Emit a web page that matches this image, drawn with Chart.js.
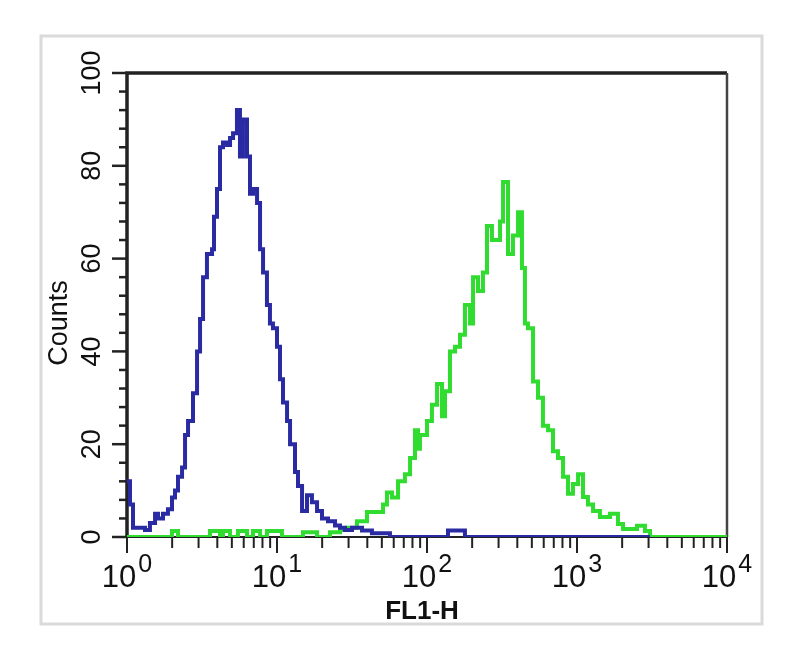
<!DOCTYPE html>
<html>
<head>
<meta charset="utf-8">
<title>FL1-H histogram</title>
<script src="https://cdn.jsdelivr.net/npm/chart.js@4/dist/chart.umd.min.js"></script>
<style>
  body { margin: 0; background: #fff; }
  canvas { display: block; }
</style>
</head>
<body>
<canvas id="facs" width="800" height="656"></canvas>
<script>
/* Histogram channels: x is the log10 of FL1-H, y is Counts */
var blueLogX = [0.000, 0.020, 0.040, 0.120, 0.153, 0.187, 0.207, 0.240, 0.273, 0.300,
                0.320, 0.340, 0.367, 0.387, 0.407, 0.440, 0.467, 0.487, 0.507, 0.533,
                0.567, 0.580, 0.600, 0.620, 0.640, 0.667, 0.687, 0.707, 0.733, 0.753,
                0.773, 0.800, 0.820, 0.840, 0.867, 0.887, 0.907, 0.933, 0.953, 0.973,
                1.000, 1.020, 1.040, 1.067, 1.087, 1.120, 1.140, 1.167, 1.200, 1.233,
                1.267, 1.300, 1.340, 1.387, 1.420, 1.453, 1.500, 1.567, 1.633, 1.753,
                2.140, 2.253, 3.487];
var blueCounts = [12, 7, 2, 1.5, 3, 5, 4, 5, 6, 8.5,
                  10, 13, 15, 22, 25, 31, 40, 47, 56, 61,
                  62, 69, 75, 84, 85, 84.5, 86, 87, 92, 82,
                  90, 82, 74, 75, 72, 62, 57, 50, 46, 45,
                  41, 34, 29, 25, 20, 14, 11, 5.6, 9, 7.5,
                  5.6, 4, 3.4, 2.5, 2, 1.5, 2, 1.4, 0.8, 0,
                  1.4, 0, 0];

var greenLogX = [0.000, 0.300, 0.340, 0.553, 0.620, 0.640, 0.687, 0.740, 0.800, 0.840,
                 0.887, 0.933, 1.033, 1.173, 1.267, 1.353, 1.420, 1.467, 1.533, 1.600,
                 1.707, 1.733, 1.767, 1.807, 1.853, 1.887, 1.920, 1.940, 1.953, 2.000,
                 2.033, 2.067, 2.100, 2.120, 2.153, 2.187, 2.220, 2.253, 2.287, 2.307,
                 2.340, 2.373, 2.400, 2.433, 2.487, 2.507, 2.540, 2.573, 2.607, 2.633,
                 2.653, 2.673, 2.707, 2.740, 2.773, 2.807, 2.840, 2.873, 2.907, 2.940,
                 2.973, 3.007, 3.040, 3.073, 3.107, 3.153, 3.220, 3.273, 3.307, 3.400,
                 3.453, 3.487, 4.000];
var greenCounts = [0, 1.3, 0, 1.3, 0, 1.3, 0, 1.3, 0, 1.3,
                   0, 1.3, 0, 1.0, 0, 1.0, 1.5, 2, 3.4, 5.4,
                   7, 9.6, 8.5, 12, 13.5, 17, 23, 19, 22, 25,
                   28.5, 33, 26, 31.4, 40, 41, 43.6, 50, 46, 56,
                   53, 57, 67, 64, 68, 76.5, 61, 65, 70, 58,
                   46, 45, 33.5, 30, 24, 23, 18.5, 17, 13, 9.3,
                   11.4, 13.5, 8.6, 7, 5.6, 4.3, 5, 2.8, 1.7, 2.4,
                   1.3, 0, 0];

/* Axis ticks and labels */
var countTicks = [0, 20, 40, 60, 80, 100];
var decades = [0, 1, 2, 3, 4];
var xTitle = "FL1-H";
var yTitle = "Counts";

function toPoints(logX, counts) {
  return logX.map(function (e, i) { return { x: Math.pow(10, e), y: counts[i] }; });
}

var FONT = '"Liberation Sans", Arial, sans-serif';

/* Frame, tick marks and labels of the FACS plot, drawn from the chart's scales */
var facsAxes = {
  id: 'facsAxes',
  beforeDraw: function (chart) {
    var ctx = chart.ctx;
    ctx.save();
    ctx.fillStyle = '#fff';
    ctx.fillRect(0, 0, chart.width, chart.height);
    ctx.strokeStyle = '#dadada';
    ctx.lineWidth = 3;
    ctx.strokeRect(41, 36, 721, 588);
    ctx.restore();
  },
  beforeDatasetsDraw: function (chart) {
    var ctx = chart.ctx, a = chart.chartArea;
    var xs = chart.scales.x, ys = chart.scales.y;
    ctx.save();
    ctx.lineCap = 'butt';

    /* frame */
    ctx.strokeStyle = '#222';
    ctx.lineWidth = 3.5;
    ctx.beginPath();
    ctx.moveTo(a.left, a.bottom + 1);
    ctx.lineTo(a.left, a.top);
    ctx.lineTo(a.right, a.top);
    ctx.stroke();
    ctx.strokeStyle = '#444';
    ctx.lineWidth = 2.5;
    ctx.beginPath();
    ctx.moveTo(a.right, a.top);
    ctx.lineTo(a.right, a.bottom);
    ctx.stroke();
    ctx.strokeStyle = '#222';
    ctx.lineWidth = 2;
    ctx.beginPath();
    ctx.moveTo(a.left, a.bottom);
    ctx.lineTo(a.right, a.bottom);
    ctx.stroke();

    /* y ticks every 4 counts, long ones every 20 */
    ctx.lineWidth = 2.5;
    ctx.strokeStyle = '#222';
    for (var c = 0; c <= 100; c += 4) {
      var py = ys.getPixelForValue(c);
      var len = (c % 20 === 0) ? 15 : 8;
      ctx.beginPath();
      ctx.moveTo(a.left - len, py);
      ctx.lineTo(a.left, py);
      ctx.stroke();
    }

    /* x ticks: log minor ticks, long ones on decades */
    ctx.lineWidth = 2;
    for (var d = 0; d < 4; d++) {
      for (var k = 1; k <= 10; k++) {
        if (d > 0 && k === 1) continue;
        var px = xs.getPixelForValue(k * Math.pow(10, d));
        var major = (k === 1 || k === 10);
        ctx.beginPath();
        ctx.moveTo(px, a.bottom);
        ctx.lineTo(px, a.bottom + (major ? 16 : 11));
        ctx.stroke();
      }
    }

    /* y tick labels, rotated */
    ctx.fillStyle = '#111';
    ctx.font = '27px ' + FONT;
    ctx.textAlign = 'center';
    ctx.textBaseline = 'alphabetic';
    countTicks.forEach(function (v) {
      ctx.save();
      ctx.translate(a.left - 27, ys.getPixelForValue(v));
      ctx.rotate(-Math.PI / 2);
      ctx.fillText(String(v), 0, 0);
      ctx.restore();
    });

    /* y title */
    ctx.save();
    ctx.translate(a.left - 60, (a.top + a.bottom) / 2 + 18);
    ctx.rotate(-Math.PI / 2);
    ctx.fillText(yTitle, 0, 0);
    ctx.restore();

    /* x tick labels 10^n */
    decades.forEach(function (n) {
      var px = xs.getPixelForValue(Math.pow(10, n));
      ctx.font = '31px ' + FONT;
      var base = '10';
      var w1 = ctx.measureText(base).width;
      ctx.font = '25px ' + FONT;
      var w2 = ctx.measureText(String(n)).width;
      var left = px - (w1 + 2 + w2) / 2;
      ctx.textAlign = 'left';
      ctx.font = '31px ' + FONT;
      ctx.fillText(base, left, a.bottom + 50);
      ctx.font = '25px ' + FONT;
      ctx.fillText(String(n), left + w1 + 2, a.bottom + 35);
    });

    /* x title */
    ctx.textAlign = 'center';
    ctx.font = 'bold 26px ' + FONT;
    ctx.fillText(xTitle, (a.left + a.right) / 2 - 5, a.bottom + 82);

    ctx.restore();
  }
};

var chart = new Chart(document.getElementById('facs'), {
  type: 'line',
  data: {
    datasets: [{
      label: 'control',
      data: toPoints(blueLogX, blueCounts),
      borderColor: '#2a2aa2',
      borderWidth: 4,
      stepped: 'before',
      pointRadius: 0,
      fill: false
    }, {
      label: 'antibody',
      data: toPoints(greenLogX, greenCounts),
      borderColor: '#30dc30',
      borderWidth: 4,
      stepped: 'before',
      pointRadius: 0,
      fill: false
    }]
  },
  options: {
    responsive: false,
    animation: false,
    events: [],
    parsing: false,
    layout: { padding: { left: 127, right: 73, top: 73, bottom: 119 } },
    plugins: { legend: { display: false }, tooltip: { enabled: false } },
    scales: {
      x: { type: 'logarithmic', min: 1, max: 10000, display: false },
      y: { type: 'linear', min: 0, max: 100, display: false }
    }
  },
  plugins: [facsAxes]
});
</script>
</body>
</html>
